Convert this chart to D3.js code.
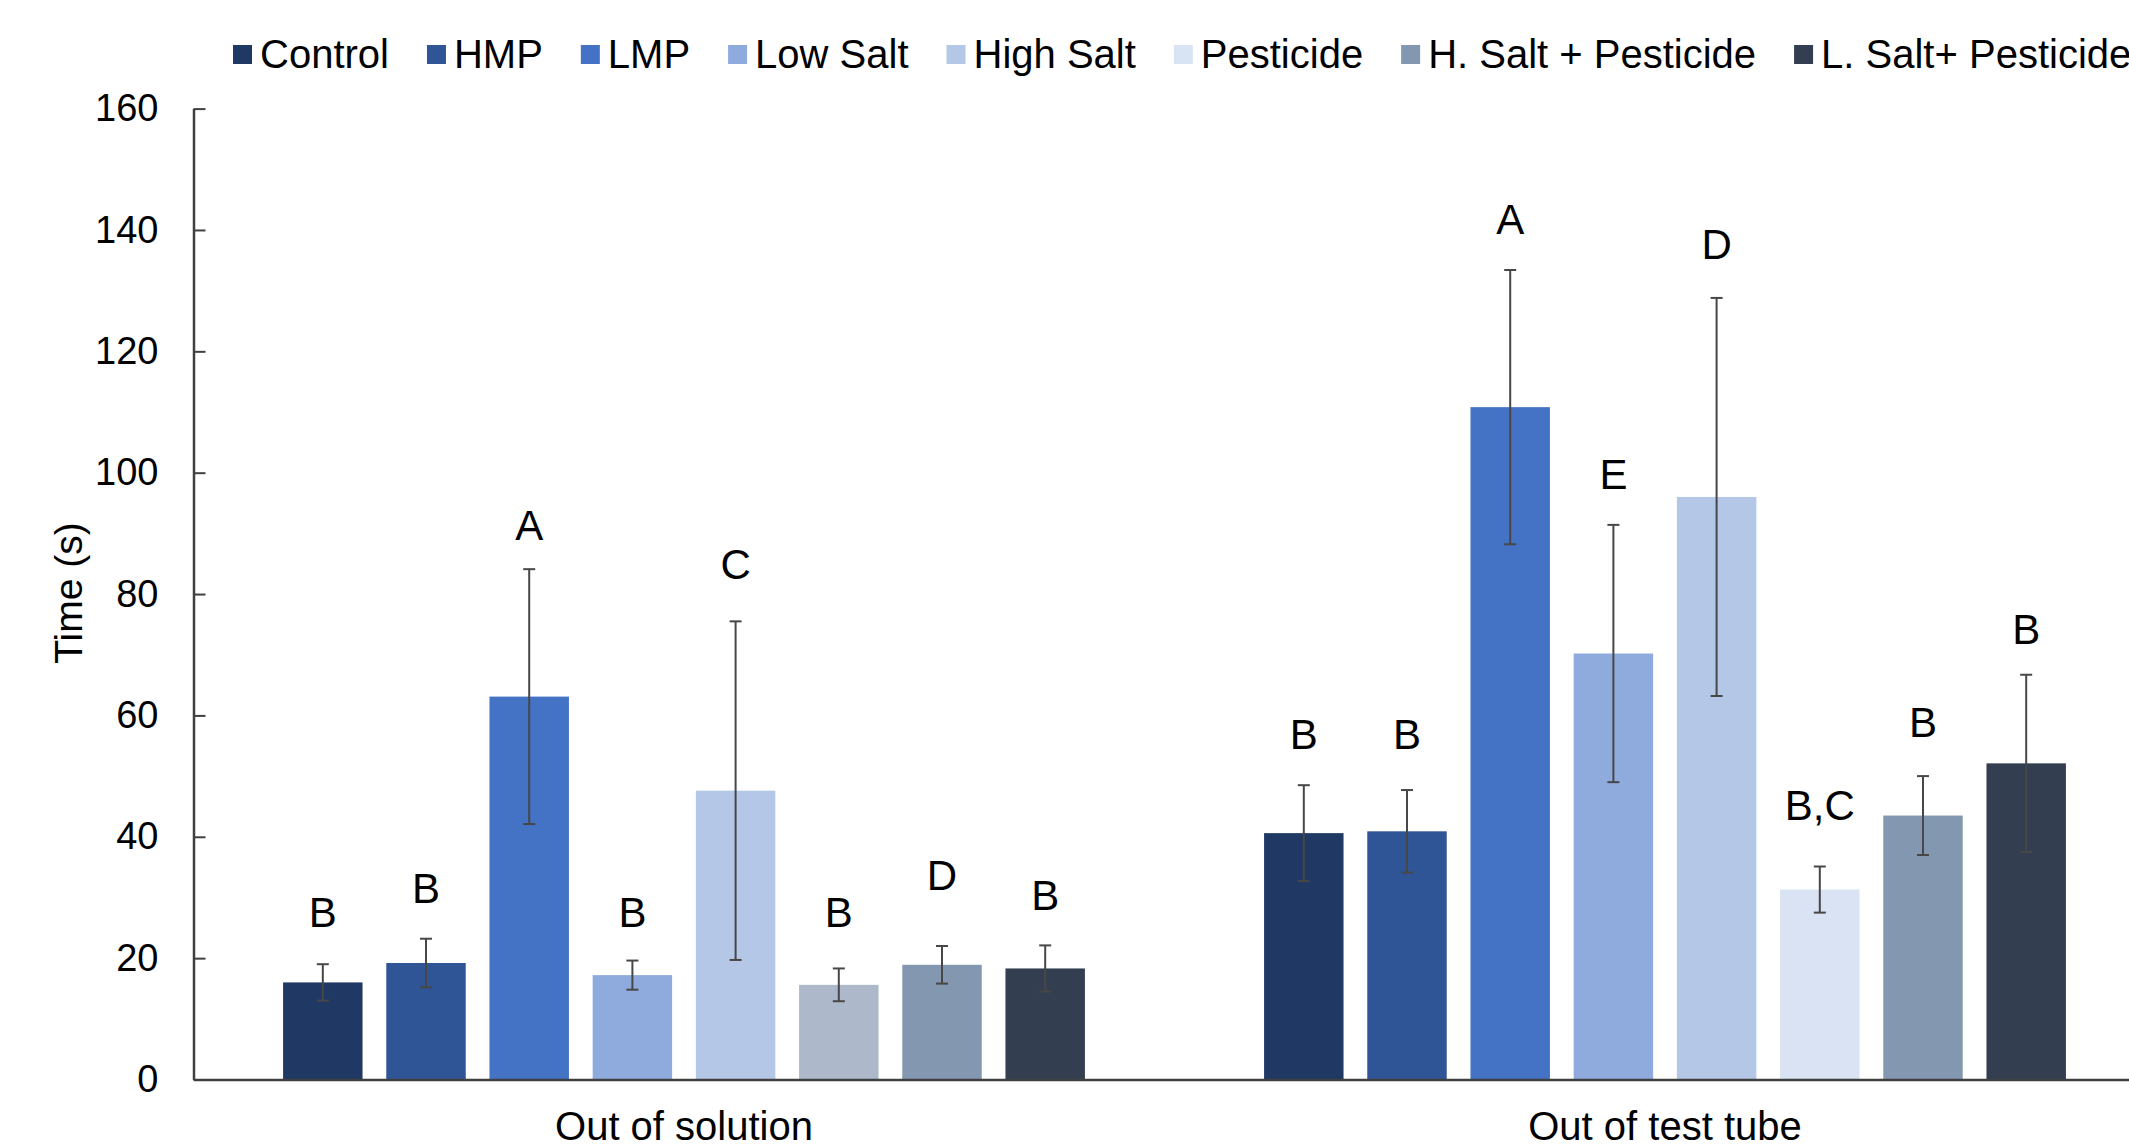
<!DOCTYPE html>
<html>
<head>
<meta charset="utf-8">
<script src="https://cdn.jsdelivr.net/npm/d3@7"></script>
<style>
  html, body { margin: 0; padding: 0; background: #fff; }
  svg { display: block; font-family: "Liberation Sans", Arial, sans-serif; }
</style>
</head>
<body>
<svg id="chart" width="2129" height="1148"></svg>
<script>
// ---- data ----
const groups = ["Out of solution", "Out of test tube"];
const series = ["Control", "HMP", "LMP", "Low Salt", "High Salt", "Pesticide",
                "H. Salt + Pesticide", "L. Salt+ Pesticide"];
const colors = ["#203864", "#2f5597", "#4472c4", "#8faadc", "#b4c7e7", "#dae3f3",
                "#8497b0", "#333f50"];

// mean time (s) per series, one array per group
const meanSolution = [16.0, 19.2, 63.1, 17.2, 47.6, 15.6, 18.9, 18.3];
const meanTube     = [40.6, 40.9, 110.8, 70.2, 96.0, 31.3, 43.5, 52.1];
// error (+/-)
const errSolution  = [3.0, 4.0, 21.0, 2.4, 27.9, 2.7, 3.1, 3.8];
const errTube      = [7.9, 6.8, 22.6, 21.2, 32.8, 3.8, 6.5, 14.6];
// significance letters and the height (in s) their baseline sits at
const lettersSolution = ["B", "B", "A", "B", "C", "B", "D", "B"];
const lettersTube     = ["B", "B", "A", "E", "D", "B,C", "B", "B"];
const letterAtSolution = [25.1, 29.1, 88.9, 25.1, 82.4, 25.1, 31.3, 27.9];
const letterAtTube     = [54.4, 54.4, 139.3, 97.3, 135.2, 42.7, 56.4, 71.8];

const yTicks = [0, 20, 40, 60, 80, 100, 120, 140, 160];

// the pesticide bar in the first group is drawn in a greyer tone
const colorOverride = { "Out of solution|Pesticide": "#adb9ca" };

// ---- build rows ----
const means = [meanSolution, meanTube];
const errs = [errSolution, errTube];
const letters = [lettersSolution, lettersTube];
const letterAt = [letterAtSolution, letterAtTube];

const rows = [];
groups.forEach((g, gi) => {
  series.forEach((s, si) => {
    rows.push({
      group: g, series: s,
      value: means[gi][si], err: errs[gi][si],
      letter: letters[gi][si], letterAt: letterAt[gi][si],
      color: colorOverride[g + "|" + s] || colors[si]
    });
  });
});

// ---- layout ----
const svg = d3.select("#chart");
const left = 193.5, bandW = 981;
const y0 = 1079.5, yTop = 108.6;

const x0 = d3.scaleBand().domain(groups).range([left, left + bandW * groups.length]);
const x1 = d3.scaleBand().domain(series).range([0, x0.bandwidth()])
  .paddingInner(0.23).paddingOuter(0.868);
const y = d3.scaleLinear().domain([0, 160]).range([y0, yTop]);
const color = d3.scaleOrdinal().domain(series).range(colors);

// bars
svg.append("g").selectAll("rect")
  .data(rows)
  .join("rect")
  .attr("x", d => x0(d.group) + x1(d.series))
  .attr("y", d => y(d.value))
  .attr("width", x1.bandwidth())
  .attr("height", d => y(0) - y(d.value))
  .attr("fill", d => d.color);

// error bars
const eb = svg.append("g").attr("stroke", "#474747").attr("stroke-width", 2);
const cx = d => x0(d.group) + x1(d.series) + x1.bandwidth() / 2;
eb.selectAll("line.v").data(rows).join("line").attr("class", "v")
  .attr("x1", cx).attr("x2", cx)
  .attr("y1", d => y(d.value + d.err)).attr("y2", d => y(d.value - d.err));
eb.selectAll("line.t").data(rows).join("line").attr("class", "t")
  .attr("x1", d => cx(d) - 6).attr("x2", d => cx(d) + 6)
  .attr("y1", d => y(d.value + d.err)).attr("y2", d => y(d.value + d.err));
eb.selectAll("line.b").data(rows).join("line").attr("class", "b")
  .attr("x1", d => cx(d) - 6).attr("x2", d => cx(d) + 6)
  .attr("y1", d => y(d.value - d.err)).attr("y2", d => y(d.value - d.err));

// letters
svg.append("g").selectAll("text")
  .data(rows)
  .join("text")
  .attr("x", cx)
  .attr("y", d => y(d.letterAt))
  .attr("text-anchor", "middle")
  .attr("font-size", 42)
  .attr("fill", "#000")
  .text(d => d.letter);

// y axis
const yAxis = svg.append("g")
  .attr("transform", `translate(${left},0)`)
  .call(d3.axisLeft(y).tickValues(yTicks).tickSize(-12).tickSizeOuter(0).tickPadding(35));
yAxis.selectAll("text").attr("font-size", 38).attr("fill", "#000")
  .attr("font-family", "'Liberation Sans', Arial, sans-serif");
yAxis.selectAll("line").attr("stroke", "#404040").attr("stroke-width", 2);
yAxis.select(".domain").attr("stroke", "#404040").attr("stroke-width", 2.5);

// x axis
const xAxis = svg.append("g")
  .attr("transform", `translate(0,${y0})`)
  .call(d3.axisBottom(x0).tickSize(0).tickSizeOuter(0).tickPadding(32));
xAxis.selectAll("text").attr("font-size", 40).attr("fill", "#000")
  .attr("font-family", "'Liberation Sans', Arial, sans-serif");
xAxis.select(".domain").attr("stroke", "#404040").attr("stroke-width", 2.5);

// y title
svg.append("text")
  .attr("transform", "translate(68,593) rotate(-90)")
  .attr("text-anchor", "middle")
  .attr("dominant-baseline", "central")
  .attr("font-size", 39)
  .text("Time (s)");

// legend
const legend = svg.append("g");
let lx = 233;
series.forEach((s, i) => {
  legend.append("rect")
    .attr("x", lx).attr("y", 45).attr("width", 19).attr("height", 19)
    .attr("fill", color(s));
  const t = legend.append("text")
    .attr("x", lx + 27).attr("y", 68)
    .attr("font-size", 40)
    .text(s);
  lx += 27 + t.node().getComputedTextLength() + 38;
});
</script>
</body>
</html>
